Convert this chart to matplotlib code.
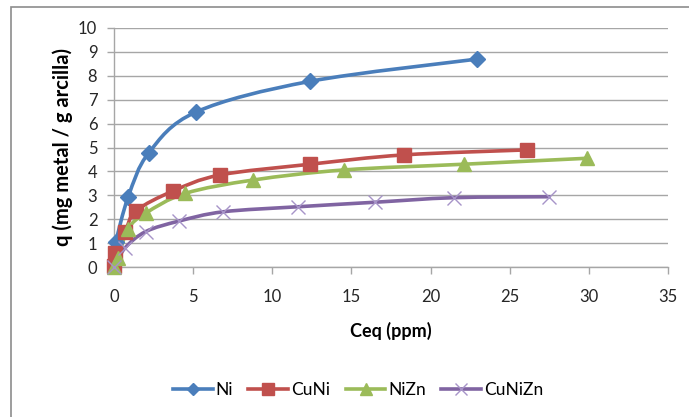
import matplotlib
matplotlib.use("Agg")
import matplotlib.pyplot as plt
from matplotlib.path import Path
from matplotlib.patches import PathPatch, Rectangle
from matplotlib.lines import Line2D

plt.rcParams['font.family'] = ['Lato', 'DejaVu Sans']

# ---- data ----
ni_x = [0.1, 0.9, 2.2, 5.2, 12.4, 22.95]
ni_y = [1.03, 2.94, 4.78, 6.49, 7.77, 8.70]

cuni_x = [0.0, 0.06, 0.7, 1.4, 3.7, 6.7, 12.4, 18.3, 26.1]
cuni_y = [0.05, 0.58, 1.48, 2.35, 3.17, 3.85, 4.30, 4.69, 4.90]

nizn_x = [0.0, 0.25, 0.9, 2.0, 4.5, 8.8, 14.5, 22.1, 29.9]
nizn_y = [0.0, 0.38, 1.6, 2.25, 3.08, 3.64, 4.06, 4.30, 4.55]

cunizn_x = [0.0, 0.7, 2.0, 4.1, 6.9, 11.6, 16.5, 21.45, 27.5]
cunizn_y = [0.0, 0.8, 1.48, 1.92, 2.31, 2.52, 2.71, 2.90, 2.94]

series = [
    ("Ni", ni_x, ni_y, "#4A7EBB", "D", 8, "#4A7EBB"),
    ("CuNi", cuni_x, cuni_y, "#C0504D", "s", 9.5, "#C0504D"),
    ("NiZn", nizn_x, nizn_y, "#9BBB59", "^", 10.5, "#9BBB59"),
    ("CuNiZn", cunizn_x, cunizn_y, "#8064A2", "x", 9.5, "#A794C8"),
]

x_ticks = [0, 5, 10, 15, 20, 25, 30, 35]
y_ticks = list(range(0, 11))


def smooth_path(xs, ys):
    pts = list(zip(xs, ys))
    verts = [pts[0]]
    codes = [Path.MOVETO]
    n = len(pts)
    for i in range(n - 1):
        p0 = pts[i - 1] if i > 0 else pts[i]
        p1 = pts[i]
        p2 = pts[i + 1]
        p3 = pts[i + 2] if i + 2 < n else pts[i + 1]
        c1 = (p1[0] + (p2[0] - p0[0]) / 6.0, p1[1] + (p2[1] - p0[1]) / 6.0)
        c2 = (p2[0] - (p3[0] - p1[0]) / 6.0, p2[1] - (p3[1] - p1[1]) / 6.0)
        verts += [c1, c2, p2]
        codes += [Path.CURVE4] * 3
    return Path(verts, codes)


fig = plt.figure(figsize=(6.89, 4.17), dpi=100)
# outer chart border
fig.patches.append(Rectangle((11 / 689, -0.01), 1.0, (417 - 7) / 417 + 0.01,
                             transform=fig.transFigure, fill=False,
                             edgecolor="#8C8C8C", linewidth=1.2))

ax = fig.add_axes([114 / 689, (417 - 267) / 417, (668 - 114) / 689, (267 - 28) / 417])
ax.set_xlim(0, 35)
ax.set_ylim(0, 10)
ax.set_xticks(x_ticks)
ax.set_yticks(y_ticks)
ax.grid(axis="y", color="#A6A6A6", linewidth=1.0)
ax.set_axisbelow(True)
for side in ["top", "right"]:
    ax.spines[side].set_visible(False)
for side in ["left", "bottom"]:
    ax.spines[side].set_color("#A6A6A6")
    ax.spines[side].set_linewidth(1.0)
ax.tick_params(axis="both", colors="#A6A6A6", labelcolor="#262626",
               labelsize=12, length=5, width=1.0, direction="out")
ax.tick_params(axis="x", pad=11)
ax.tick_params(axis="y", pad=7)

handles = []
for name, xs, ys, col, mk, ms, mcol in series:
    patch = PathPatch(smooth_path(xs, ys), transform=ax.transData,
                      facecolor="none", edgecolor=col, linewidth=2.6,
                      capstyle="round", joinstyle="round", clip_on=False, zorder=3)
    ax.add_patch(patch)
    if mk == "x":
        ax.plot(xs, ys, linestyle="none", marker=mk, markersize=ms,
                markeredgecolor=mcol, markeredgewidth=1.0, clip_on=False, zorder=4)
        h = Line2D([], [], color=col, linewidth=2.6, marker=mk, markersize=ms - 1,
                   markeredgecolor=mcol, markeredgewidth=1.0)
    else:
        ax.plot(xs, ys, linestyle="none", marker=mk, markersize=ms,
                markerfacecolor=mcol, markeredgecolor=mcol, clip_on=False, zorder=4)
        h = Line2D([], [], color=col, linewidth=2.6, marker=mk, markersize=ms - 1.5,
                   markerfacecolor=mcol, markeredgecolor=mcol)
    handles.append((h, name))

ax.set_xlabel("Ceq (ppm)", fontsize=13, fontweight="bold", color="#000000", labelpad=12)
ax.set_ylabel("q (mg metal / g arcilla)", fontsize=14.5, fontweight="bold", color="#000000", labelpad=4)

fig.legend([h for h, _ in handles], [n for _, n in handles], loc="center",
           bbox_to_anchor=(358 / 689, 1 - 390 / 417), ncol=4, frameon=False,
           fontsize=12.5, handlelength=2.3, columnspacing=0.9, handletextpad=0.15)

fig.savefig("out.png", dpi=100, facecolor="white")
